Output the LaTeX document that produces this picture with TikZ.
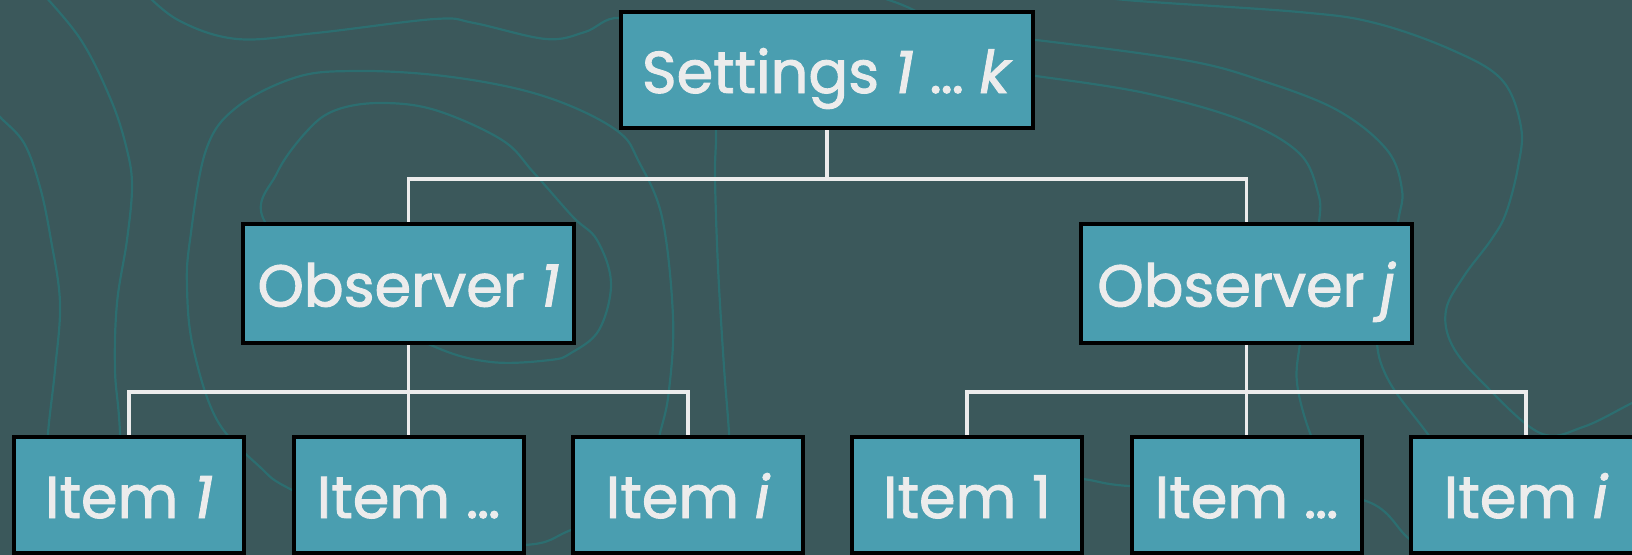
\documentclass[tikz,border=0pt]{standalone}
\usepackage{fontspec}
\setmainfont{Poppins}[UprightFeatures={FakeBold=1.6}, ItalicFeatures={FakeBold=1.6}]
\definecolor{slatebg}{RGB}{59,88,91}
\definecolor{contour}{RGB}{44,110,112}
\definecolor{cardfill}{RGB}{74,158,176}
\definecolor{chalk}{RGB}{236,236,236}
\pgfdeclarelayer{backdrop}
\pgfdeclarelayer{wires}
\pgfsetlayers{backdrop,wires,main}
\tikzset{
  card/.style={draw=black, line width=4pt, fill=cardfill, text=chalk,
    inner sep=0pt, text height=46pt, text depth=0pt,
    font=\fontsize{59}{62}\selectfont},
  topcard/.style={card, minimum width=412pt, minimum height=116pt},
  obscard/.style={card, minimum width=331pt, minimum height=119pt},
  itemcard/.style={card, minimum width=230pt, minimum height=116pt},
  link/.style={draw=chalk, line width=3.5pt},
  isoline/.style={draw=contour, line width=2.2pt},
}
\begin{document}
\begin{tikzpicture}[x=1pt,y=-1pt]
\useasboundingbox (0,0) rectangle (1632,554);
\clip (0,0) rectangle (1632,554);

% backdrop with contour lines
\begin{pgfonlayer}{backdrop}
  \fill[slatebg] (-5,-5) rectangle (1640,560);
  \draw[isoline] plot[smooth, tension=0.6] coordinates {(-10,105) (0,117) (24,143) (40,187) (51,240) (60,303) (55,370) (48,433) (44,500) (42,570)};
  \draw[isoline] plot[smooth, tension=0.6] coordinates {(30,-20) (79,37) (111,100) (127,150) (132,187) (127,240) (117,303) (115,370) (120,433) (124,570)};
  \draw[isoline] plot[smooth, tension=0.6] coordinates {(140,-12) (178,20) (237,39) (316,33) (435,19) (474,23) (546,39) (585,32) (620,18) (680,40) (740,60)};
  \draw[isoline] plot[smooth, tension=0.6] coordinates {(850,-12) (900,4) (930,20) (970,50)};
  \draw[isoline] plot[smooth cycle, tension=0.6] coordinates {(571,530) (524,545) (400,540) (292,490) (260,467) (217,420) (193,347) (187,287) (190,240) (206,150) (237,107) (297,77) (356,71) (435,75) (514,88) (573,107) (620,133) (638,160) (662,217) (673,317) (669,390) (660,433) (640,500)};
  \draw[isoline] plot[smooth cycle, tension=0.6] coordinates {(265,222) (277,173) (308,130) (336,110) (380,103) (435,110) (502,140) (534,173) (573,217) (597,240) (611,283) (599,330) (571,353) (550,360) (491,362) (433,346) (350,300)};
  \draw[isoline] plot[smooth, tension=0.6] coordinates {(712,80) (716,130) (715,177) (718,267) (724,367) (729,433) (732,500)};
  \draw[isoline] plot[smooth, tension=0.6] coordinates {(1050,-10) (1126,0) (1299,12) (1375,23) (1452,50) (1502,80) (1521,127) (1518,167) (1506,213) (1491,240) (1464,276) (1446,310) (1452,345) (1483,383) (1540,433) (1583,427) (1632,403) (1660,390)};
  \draw[isoline] plot[smooth, tension=0.6] coordinates {(1000,38) (1036,40) (1184,60) (1260,80) (1337,110) (1387,150) (1402,190) (1398,222) (1385,300) (1377,343) (1390,383) (1427,433) (1460,480)};
  \draw[isoline] plot[smooth, tension=0.6] coordinates {(1000,72) (1036,76) (1145,93) (1241,120) (1299,153) (1318,193) (1319,222) (1308,290) (1300,343) (1297,383) (1310,433) (1330,470)};
  \draw[isoline] plot[smooth, tension=0.6] coordinates {(1040,476) (1083,479) (1129,486) (1250,490) (1363,500) (1407,537) (1440,570)};
\end{pgfonlayer}

% boxes
\node[topcard] (settings) at (827,70) {Settings \textit{1} … \textit{k}};
\node[obscard] (obsA) at (408.5,283.5) {Observer \textit{1}};
\node[obscard] (obsB) at (1246.5,283.5) {Observer \textit{j}};
\node[itemcard] (a1) at (129,495) {Item \textit{1}};
\node[itemcard] (a2) at (408.5,495) {Item …};
\node[itemcard] (a3) at (688,495) {Item \textit{i}};
\node[itemcard] (b1) at (967,495) {Item 1};
\node[itemcard] (b2) at (1246.5,495) {Item …};
\node[itemcard] (b3) at (1526,495) {Item \textit{i}};

% tree connectors
\begin{pgfonlayer}{wires}
  \draw[link] (settings.south) -- ++(0,49) -| (obsA.north);
  \draw[link] (settings.south) -- ++(0,49) -| (obsB.north);
  \draw[link] (obsA.south) -- (a2.north);
  \draw[link] (obsA.south) -- ++(0,47) -| (a1.north);
  \draw[link] (obsA.south) -- ++(0,47) -| (a3.north);
  \draw[link] (obsB.south) -- (b2.north);
  \draw[link] (obsB.south) -- ++(0,47) -| (b1.north);
  \draw[link] (obsB.south) -- ++(0,47) -| (b3.north);
\end{pgfonlayer}
\end{tikzpicture}
\end{document}
